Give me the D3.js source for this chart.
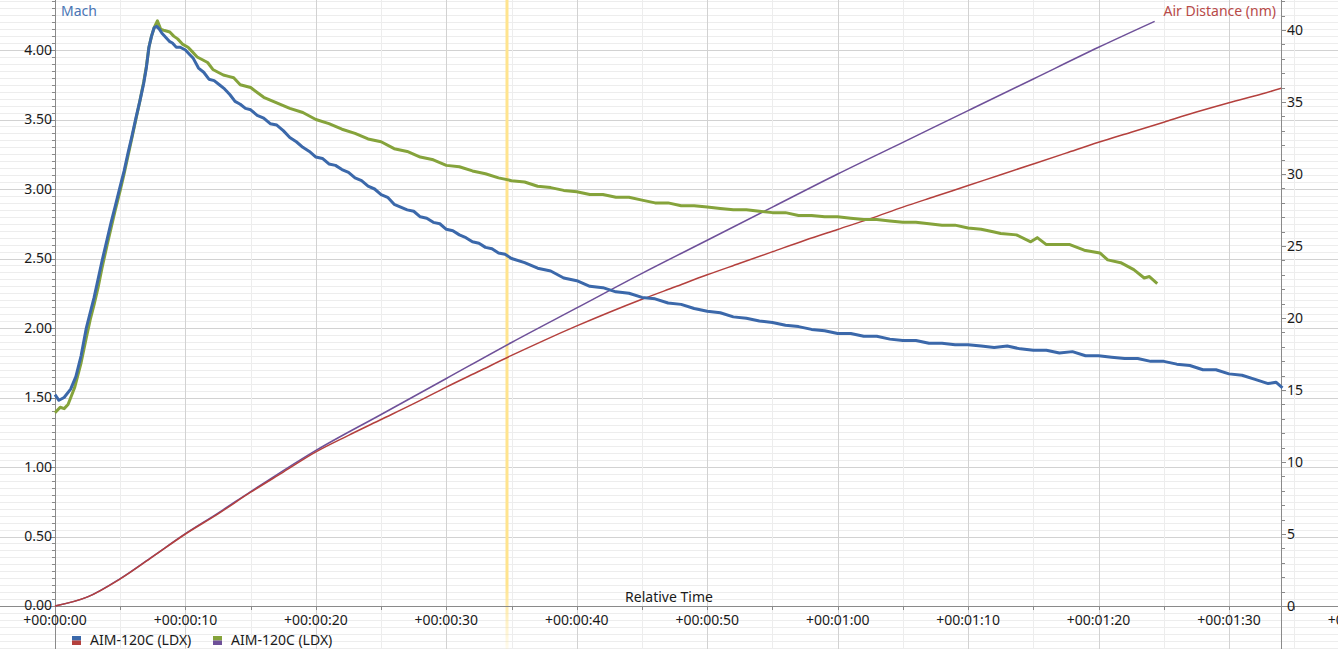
<!DOCTYPE html>
<html><head><meta charset="utf-8">
<script src="https://cdn.jsdelivr.net/npm/d3@7"></script>
<style>
html,body{margin:0;padding:0;background:#fff;overflow:hidden}
svg{display:block;font-family:"Noto Sans","Open Sans",sans-serif}
</style></head><body>
<svg id="c" width="1338" height="649"></svg>
<script>
// ---- data ----
const leftTicks = ["0.00","0.50","1.00","1.50","2.00","2.50","3.00","3.50","4.00"];
const rightTicks = [0,5,10,15,20,25,30,35,40];
const timeTicks = ["+00:00:00","+00:00:10","+00:00:20","+00:00:30","+00:00:40","+00:00:50","+00:01:00","+00:01:10","+00:01:20","+00:01:30","+00:01:40"];
const seriesNames = ["AIM-120C (LDX)","AIM-120C (LDX)"];
const cursorTime = 34.65;

// Mach, missile 1 (blue) [seconds, Mach]
const machA = [[0,1.52],[0.3,1.48],[0.7,1.50],[1.2,1.56],[1.6,1.65],[2.0,1.80],[2.4,2.00],[2.7,2.11],[3.0,2.22],[3.3,2.35],[3.6,2.48],[4.0,2.64],[4.3,2.76],[4.6,2.87],[5.0,3.02],[5.3,3.13],[5.6,3.26],[5.9,3.38],[6.2,3.51],[6.5,3.63],[6.8,3.76],[7.0,3.87],[7.2,4.02],[7.4,4.10],[7.6,4.16],[7.8,4.17],[8.0,4.15],[8.2,4.12],[8.5,4.09],[8.8,4.06],[9.0,4.05],[9.3,4.02],[9.6,4.02],[10.0,4.00],[10.3,3.97],[10.6,3.94],[11.0,3.87],[11.4,3.84],[11.8,3.79],[12.2,3.78],[12.6,3.75],[13.0,3.72],[13.4,3.68],[13.8,3.63],[14.2,3.61],[14.6,3.58],[15.0,3.57],[15.5,3.53],[16.0,3.51],[16.5,3.47],[17.0,3.46],[17.5,3.42],[18.0,3.37],[18.5,3.34],[19.0,3.30],[19.5,3.27],[20.0,3.23],[20.5,3.22],[21.0,3.18],[21.5,3.17],[22.0,3.14],[22.5,3.12],[23.0,3.08],[23.5,3.06],[24.0,3.02],[24.5,3.00],[25.0,2.96],[25.5,2.94],[26.0,2.89],[26.5,2.87],[27.0,2.85],[27.5,2.84],[28.0,2.80],[28.5,2.79],[29.0,2.76],[29.5,2.75],[30.0,2.71],[30.5,2.70],[31.0,2.67],[31.5,2.65],[32.0,2.62],[32.5,2.61],[33.0,2.58],[33.5,2.57],[34.0,2.54],[34.5,2.53],[35.0,2.50],[36,2.47],[37,2.43],[38,2.41],[39,2.36],[40,2.34],[41,2.30],[42,2.29],[43,2.26],[44,2.25],[45,2.22],[46,2.21],[47,2.18],[48,2.17],[49,2.14],[50,2.12],[51,2.11],[52,2.08],[53,2.07],[54,2.05],[55,2.04],[56,2.02],[57,2.01],[58,1.99],[59,1.98],[60,1.96],[61,1.96],[62,1.94],[63,1.94],[64,1.92],[65,1.91],[66,1.91],[67,1.89],[68,1.89],[69,1.88],[70,1.88],[71,1.87],[72,1.86],[73,1.87],[74,1.85],[75,1.84],[76,1.84],[77,1.82],[78,1.83],[79,1.80],[80,1.80],[81,1.79],[82,1.78],[83,1.78],[84,1.76],[85,1.76],[86,1.74],[87,1.73],[88,1.70],[89,1.70],[90,1.67],[91,1.66],[92,1.63],[93,1.60],[93.6,1.61],[94.1,1.57]];

// Mach, missile 2 (green)
const machB = [[0,1.39],[0.4,1.43],[0.7,1.42],[1.0,1.45],[1.5,1.57],[2.0,1.75],[2.4,1.93],[2.7,2.06],[3.0,2.17],[3.3,2.29],[3.6,2.43],[4.0,2.60],[4.3,2.72],[4.6,2.84],[5.0,2.99],[5.3,3.11],[5.6,3.24],[5.9,3.37],[6.2,3.50],[6.5,3.63],[6.8,3.77],[7.0,3.88],[7.2,4.02],[7.4,4.10],[7.6,4.16],[7.85,4.21],[8.1,4.15],[8.4,4.14],[8.8,4.13],[9.1,4.10],[9.4,4.08],[9.8,4.04],[10.2,4.02],[10.5,3.99],[10.9,3.95],[11.3,3.93],[11.7,3.91],[12.1,3.86],[12.5,3.84],[12.9,3.82],[13.3,3.81],[13.7,3.80],[14.2,3.75],[15,3.73],[16,3.66],[17,3.62],[18,3.58],[19,3.55],[20,3.50],[21,3.47],[22,3.43],[23,3.40],[24,3.36],[25,3.34],[26,3.29],[27,3.27],[28,3.23],[29,3.21],[30,3.17],[31,3.16],[32,3.13],[33,3.11],[34,3.08],[35,3.06],[36,3.05],[37,3.02],[38,3.01],[39,2.99],[40,2.98],[41,2.96],[42,2.96],[43,2.94],[44,2.94],[45,2.92],[46,2.90],[47,2.90],[48,2.88],[49,2.88],[50,2.87],[51,2.86],[52,2.85],[53,2.85],[54,2.84],[55,2.83],[56,2.83],[57,2.81],[58,2.81],[59,2.80],[60,2.80],[61,2.79],[62,2.78],[63,2.78],[64,2.77],[65,2.76],[66,2.76],[67,2.75],[68,2.74],[69,2.74],[70,2.72],[71,2.71],[72,2.69],[72.5,2.68],[73.7,2.67],[74.8,2.62],[75.3,2.65],[76,2.60],[77.8,2.60],[78.9,2.56],[80.1,2.54],[80.7,2.49],[81.7,2.47],[82.7,2.42],[83.5,2.36],[83.9,2.37],[84.5,2.32]];

// Air distance (nm), missile 1 (red)
const distA = [[0,0],[2.5,0.63],[5,1.88],[7.5,3.43],[10,5.0],[12.5,6.4],[15,7.9],[17.5,9.3],[20,10.7],[22.5,11.85],[25,12.95],[27.5,14.05],[30,15.2],[32.5,16.3],[35,17.4],[37.5,18.45],[40,19.45],[42.5,20.4],[45,21.3],[47.5,22.15],[50,23.0],[52.5,23.8],[55,24.6],[57.5,25.4],[60,26.15],[62.5,26.9],[65,27.7],[67.5,28.45],[70,29.2],[72.5,29.95],[75,30.7],[77.5,31.45],[80,32.2],[82.5,32.9],[85,33.6],[87.5,34.3],[90,34.95],[92.5,35.55],[94,35.95]];

// Air distance (nm), missile 2 (purple)
const distB = [[0,0],[2.5,0.63],[5,1.9],[7.5,3.45],[10,5.02],[12.5,6.45],[15,7.95],[17.5,9.4],[20,10.8],[25,13.3],[30,15.8],[35,18.3],[40,20.7],[45,23.1],[50,25.4],[55,27.7],[60,30.0],[65,32.2],[70,34.4],[75,36.6],[80,38.8],[84.3,40.6]];

// ---- chart ----
const W = 1338, H = 649;
const svg = d3.select("#c");
const x = d3.scaleLinear().domain([0, 90]).range([55, 1229]);
const yL = d3.scaleLinear().domain([0, 4]).range([606, 50]);
const yR = d3.scaleLinear().domain([0, 40]).range([606, 30]);
const xAxisY = yL(0), leftX = x(0), rightX = 1281;

const grid = svg.append("g");
d3.range(-12, 89).forEach(i => {
  const v = i * 0.05, yy = Math.round(yL(v)) + 0.5;
  grid.append("line").attr("x1", 0).attr("x2", W).attr("y1", yy).attr("y2", yy)
    .attr("stroke", i % 10 === 0 ? "#d2d2d2" : "#ededed").attr("stroke-width", 1);
});
d3.range(-1, 22).forEach(i => {
  const t = i * 5, xx = Math.round(x(t)) + 0.5;
  grid.append("line").attr("x1", xx).attr("x2", xx).attr("y1", 0).attr("y2", H)
    .attr("stroke", i % 2 === 0 ? "#d2d2d2" : "#ededed").attr("stroke-width", 1);
});

// cursor line
const cx = x(cursorTime);
const grad = svg.append("defs").append("linearGradient").attr("id","fade").attr("x1",0).attr("x2",0).attr("y1",0).attr("y2",1);
grad.append("stop").attr("offset","0%").attr("stop-color","#ffe48f").attr("stop-opacity",1);
grad.append("stop").attr("offset","90%").attr("stop-color","#ffe48f").attr("stop-opacity",1);
grad.append("stop").attr("offset","100%").attr("stop-color","#ffe48f").attr("stop-opacity",0.15);
svg.append("rect").attr("x", cx - 1.5).attr("y", 0).attr("width", 3).attr("height", H).attr("fill", "url(#fade)");

// axes lines
const axisColor = "#8a8a8a";
svg.append("line").attr("x1",0).attr("x2",W).attr("y1",xAxisY+0.5).attr("y2",xAxisY+0.5).attr("stroke",axisColor);
svg.append("line").attr("x1",leftX+0.5).attr("x2",leftX+0.5).attr("y1",0).attr("y2",H).attr("stroke",axisColor);
svg.append("line").attr("x1",rightX+0.5).attr("x2",rightX+0.5).attr("y1",0).attr("y2",H).attr("stroke",axisColor);

d3.range(0, 89).forEach(i => {
  const yy = Math.round(yL(i*0.05)) + 0.5;
  svg.append("line").attr("x1", leftX - (i%10===0?5:3)).attr("x2", leftX).attr("y1", yy).attr("y2", yy).attr("stroke", axisColor);
});
d3.range(0, 43).forEach(i => {
  const yy = Math.round(yR(i)) + 0.5;
  svg.append("line").attr("x1", rightX).attr("x2", rightX + (i%5===0?5:4)).attr("y1", yy).attr("y2", yy).attr("stroke", axisColor);
});
d3.range(0, 21).forEach(i => {
  const xx = Math.round(x(i*5)) + 0.5;
  svg.append("line").attr("x1", xx).attr("x2", xx).attr("y1", xAxisY).attr("y2", xAxisY + 4).attr("stroke", axisColor);
});

// tick labels
const lab = svg.append("g").attr("font-size", 14).attr("fill", "#1a1a1a");
leftTicks.forEach(s => {
  lab.append("text").attr("x", 52).attr("y", yL(+s) - (+s === 0 ? 1 : 0)).attr("dy", "0.35em").attr("text-anchor", "end").text(s);
});
rightTicks.forEach(v => {
  lab.append("text").attr("x", rightX + 6).attr("y", yR(v)).attr("dy", "0.35em").attr("text-anchor", "start").text(v);
});
timeTicks.forEach((s, i) => {
  lab.append("text").attr("x", x(i*10)).attr("y", 620).attr("dy", "0.35em").attr("text-anchor", "middle").text(s);
});
lab.append("text").attr("x", 669).attr("y", 597).attr("dy", "0.35em").attr("text-anchor", "middle").text("Relative Time");
svg.append("text").attr("x", 61).attr("y", 11).attr("dy","0.35em").attr("font-size", 14).attr("fill", "#4a76b5").text("Mach");
svg.append("text").attr("x", 1276).attr("y", 11).attr("dy","0.35em").attr("font-size", 14).attr("text-anchor","end").attr("fill", "#b84a48").text("Air Distance (nm)");

// series
const lineL = d3.line().x(d => x(d[0])).y(d => yL(d[1]));
const lineR = d3.line().curve(d3.curveMonotoneX).x(d => x(d[0])).y(d => yR(d[1]));
const cols = {blue:"#3b68aa", green:"#85a33b", red:"#b4403d", purple:"#6e5099"};
svg.append("path").datum(distB).attr("d", lineR).attr("fill","none").attr("stroke",cols.purple).attr("stroke-width",1.5);
svg.append("path").datum(distA).attr("d", lineR).attr("fill","none").attr("stroke",cols.red).attr("stroke-width",1.5);
svg.append("path").datum(machB).attr("d", lineL).attr("fill","none").attr("stroke",cols.green).attr("stroke-width",3).attr("stroke-linejoin","round");
svg.append("path").datum(machA).attr("d", lineL).attr("fill","none").attr("stroke",cols.blue).attr("stroke-width",3).attr("stroke-linejoin","round");

// legend
const leg = [[72, cols.blue, cols.red], [213, cols.green, cols.purple]];
leg.forEach((l, i) => {
  const g = svg.append("g");
  g.append("rect").attr("x", l[0]).attr("y", 636).attr("width", 9).attr("height", 4.5).attr("fill", l[1]);
  g.append("rect").attr("x", l[0]).attr("y", 640.5).attr("width", 9).attr("height", 4.5).attr("fill", l[2]);
  g.append("text").attr("x", l[0] + 18).attr("y", 640).attr("dy","0.35em").attr("font-size", 14).attr("fill","#1a1a1a").text(seriesNames[i]);
});
</script>
</body></html>
